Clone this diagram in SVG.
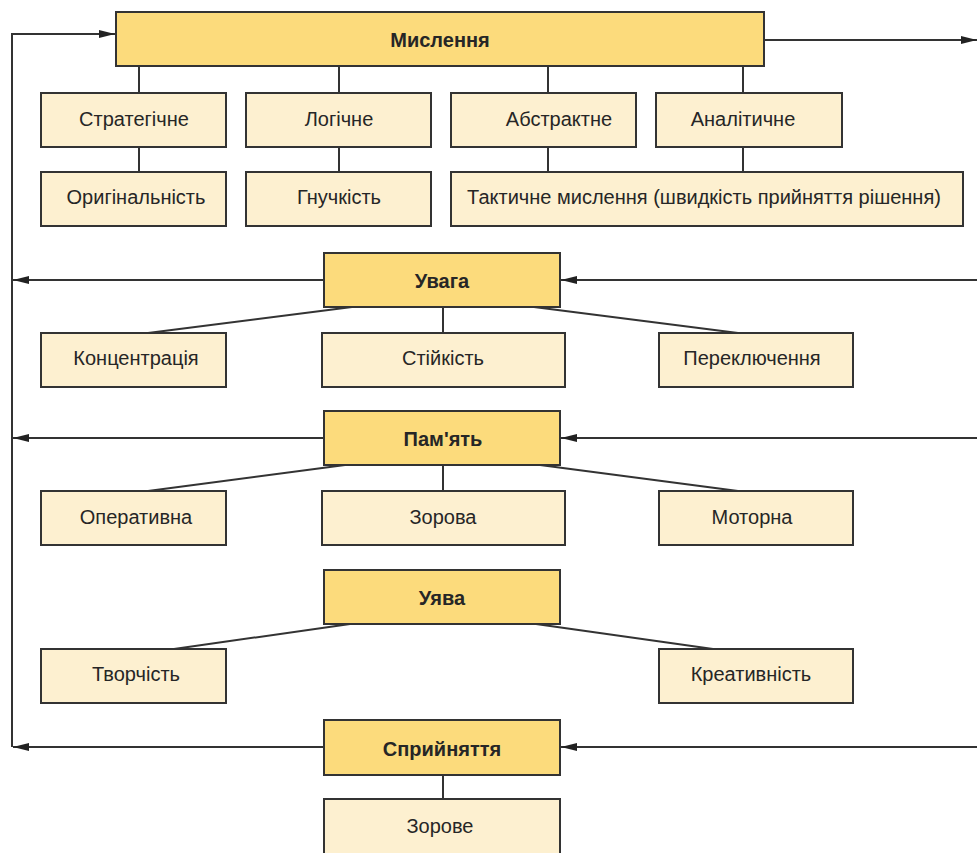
<svg xmlns="http://www.w3.org/2000/svg" width="977" height="853" viewBox="0 0 977 853">
<style>
.main{fill:#fcdb7c;stroke:#333;stroke-width:2}
.sub{fill:#fdf0d0;stroke:#333;stroke-width:2}
.t{font-family:"Liberation Sans",Arial,sans-serif;font-size:20px;fill:#262626;text-anchor:middle;dominant-baseline:central}
.b{font-weight:bold}
.ln{stroke:#333;stroke-width:2;fill:none}
</style>
<defs>
<marker id="ar" viewBox="0 0 16 8" refX="16" refY="4" markerWidth="16" markerHeight="8" markerUnits="userSpaceOnUse" orient="auto">
<path d="M0,0 L16,4 L0,8 Z" fill="#222"/>
</marker>
</defs>
<rect width="977" height="853" fill="#fff"/>
<g id="connectors">
<polyline class="ln" points="12,747 12,34 115,34" marker-end="url(#ar)"/>
<line class="ln" x1="764" y1="40" x2="977" y2="40" marker-end="url(#ar)"/>
<line class="ln" x1="139" y1="66" x2="139" y2="93"/>
<line class="ln" x1="339" y1="66" x2="339" y2="93"/>
<line class="ln" x1="548" y1="66" x2="548" y2="93"/>
<line class="ln" x1="743" y1="66" x2="743" y2="93"/>
<line class="ln" x1="139" y1="147" x2="139" y2="172"/>
<line class="ln" x1="339" y1="147" x2="339" y2="172"/>
<line class="ln" x1="548" y1="147" x2="548" y2="172"/>
<line class="ln" x1="743" y1="147" x2="743" y2="172"/>
<line class="ln" x1="324" y1="280" x2="13" y2="280" marker-end="url(#ar)"/>
<line class="ln" x1="977" y1="280" x2="561" y2="280" marker-end="url(#ar)"/>
<line class="ln" x1="352" y1="307" x2="148" y2="333"/>
<line class="ln" x1="443" y1="307" x2="443" y2="333"/>
<line class="ln" x1="534" y1="307" x2="738" y2="333"/>
<line class="ln" x1="324" y1="438" x2="13" y2="438" marker-end="url(#ar)"/>
<line class="ln" x1="977" y1="438" x2="561" y2="438" marker-end="url(#ar)"/>
<line class="ln" x1="345" y1="465" x2="148" y2="491"/>
<line class="ln" x1="443" y1="465" x2="443" y2="491"/>
<line class="ln" x1="540" y1="465" x2="738" y2="491"/>
<line class="ln" x1="350" y1="624" x2="174" y2="649"/>
<line class="ln" x1="536" y1="624" x2="713" y2="649"/>
<line class="ln" x1="324" y1="747" x2="13" y2="747" marker-end="url(#ar)"/>
<line class="ln" x1="977" y1="747" x2="561" y2="747" marker-end="url(#ar)"/>
<line class="ln" x1="443" y1="775" x2="443" y2="799"/>
</g>
<g id="myslennia"><rect class="main" x="116" y="12" width="648" height="54"/><text class="t b" x="440" y="40">Мислення</text></g>
<g id="stratehichne"><rect class="sub" x="41" y="93" width="185" height="54"/><text class="t" x="134" y="119">Стратегічне</text></g>
<g id="lohichne"><rect class="sub" x="246" y="93" width="185" height="54"/><text class="t" x="339" y="119">Логічне</text></g>
<g id="abstraktne"><rect class="sub" x="451" y="93" width="185" height="54"/><text class="t" x="559" y="119">Абстрактне</text></g>
<g id="analitychne"><rect class="sub" x="656" y="93" width="186" height="54"/><text class="t" x="743" y="119">Аналітичне</text></g>
<g id="oryhinalnist"><rect class="sub" x="41" y="172" width="185" height="54"/><text class="t" x="136" y="197">Оригінальність</text></g>
<g id="hnuchkist"><rect class="sub" x="246" y="172" width="185" height="54"/><text class="t" x="339" y="197">Гнучкість</text></g>
<g id="taktychne"><rect class="sub" x="451" y="172" width="512" height="54"/><text class="t" x="704" y="197">Тактичне мислення (швидкість прийняття рішення)</text></g>
<g id="uvaha"><rect class="main" x="324" y="253" width="236" height="54"/><text class="t b" x="442" y="281">Увага</text></g>
<g id="kontsentratsiia"><rect class="sub" x="41" y="333" width="185" height="54"/><text class="t" x="136" y="358">Концентрація</text></g>
<g id="stiikist"><rect class="sub" x="322" y="333" width="243" height="54"/><text class="t" x="443" y="358">Стійкість</text></g>
<g id="perekliuchennia"><rect class="sub" x="659" y="333" width="194" height="54"/><text class="t" x="752" y="358">Переключення</text></g>
<g id="pamiat"><rect class="main" x="324" y="411" width="236" height="54"/><text class="t b" x="443" y="439">Пам'ять</text></g>
<g id="operatyvna"><rect class="sub" x="41" y="491" width="185" height="54"/><text class="t" x="136" y="517">Оперативна</text></g>
<g id="zorova"><rect class="sub" x="322" y="491" width="243" height="54"/><text class="t" x="443" y="517">Зорова</text></g>
<g id="motorna"><rect class="sub" x="659" y="491" width="194" height="54"/><text class="t" x="752" y="517">Моторна</text></g>
<g id="uiava"><rect class="main" x="324" y="570" width="236" height="54"/><text class="t b" x="442" y="598">Уява</text></g>
<g id="tvorchist"><rect class="sub" x="41" y="649" width="185" height="54"/><text class="t" x="136" y="674">Творчість</text></g>
<g id="kreatyvnist"><rect class="sub" x="659" y="649" width="194" height="54"/><text class="t" x="751" y="674">Креативність</text></g>
<g id="spryiniattia"><rect class="main" x="324" y="720" width="236" height="55"/><text class="t b" x="442" y="749">Сприйняття</text></g>
<g id="zorove"><rect class="sub" x="324" y="799" width="236" height="60"/><text class="t" x="440" y="826">Зорове</text></g>
</svg>
